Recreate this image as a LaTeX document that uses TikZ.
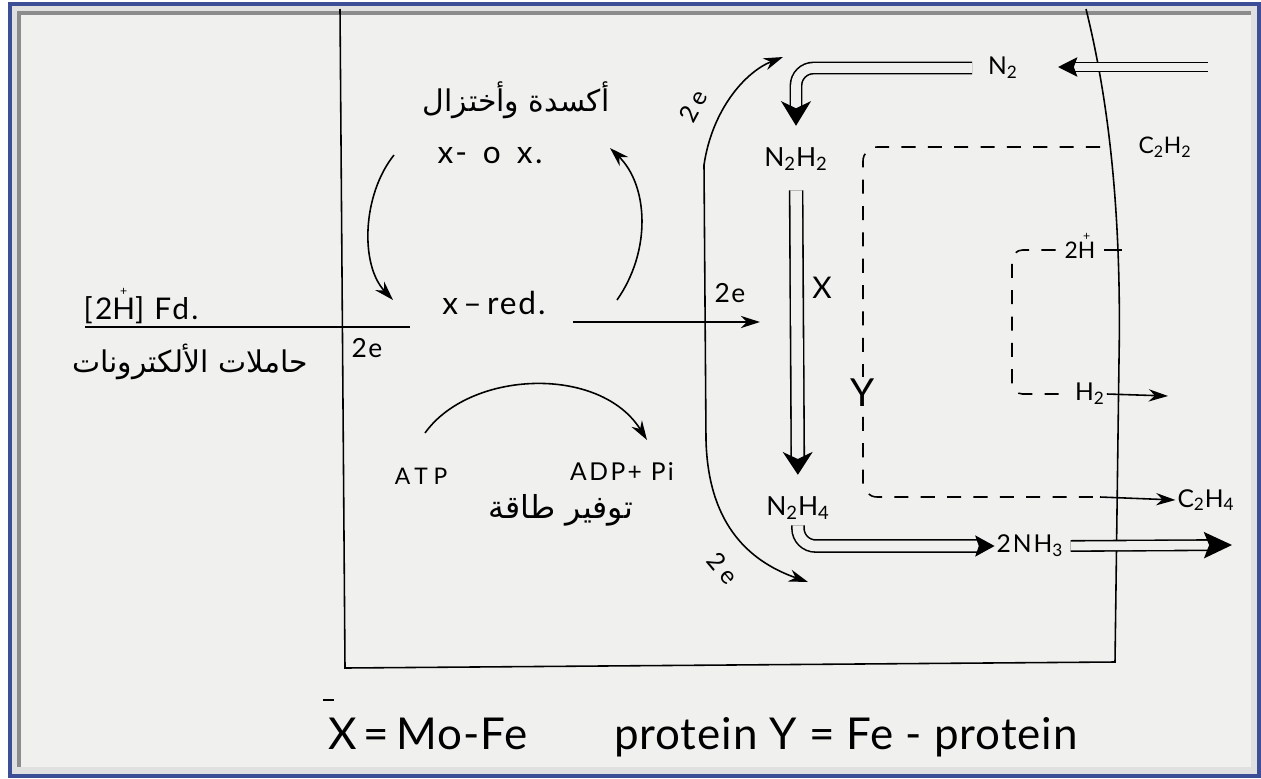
\documentclass[tikz,border=0pt]{standalone}
\usepackage{fontspec}
\setmainfont{Lato}
\newfontfamily\arabicfont[Script=Arabic]{DejaVu Sans}
\TeXXeTstate=1
\usepackage{xcolor}
\usetikzlibrary{arrows.meta,positioning}

\definecolor{paper}{RGB}{240,240,238}
\definecolor{bevel}{RGB}{224,224,224}
\definecolor{bevelshade}{RGB}{140,140,140}
\definecolor{rimblue}{RGB}{60,78,150}

\newcommand{\hand}[2]{\fontsize{#1}{#1}\selectfont\addfontfeature{LetterSpace=#2}}
\newcommand{\arab}[1]{\arabicfont\fontsize{#1}{#1}\selectfont}
\newcommand{\Hcharge}{\ooalign{H\cr\hidewidth\raisebox{0.8em}{\scriptsize+}\hidewidth\cr}}

\tikzset{
	>={Stealth[length=11pt,width=7pt]},
	lbl/.style={inner sep=1pt},
	arr/.style={line width=0.9pt,->},
	dbl/.style={line width=0.9pt,double=paper,double distance=#1},
	dashy/.style={line width=0.9pt,dash pattern=on 8pt off 7pt},
}

\begin{document}
\begin{tikzpicture}[x=0.02cm,y=-0.02cm]

		\useasboundingbox (0,0) rectangle (1261,778);

		% frame of the photo
		\fill[white] (0,0) rectangle (1261,778);
		\fill[bevel] (11,5) rectangle (1258,775);
		\fill[paper] (20,14) rectangle (1251,767);
		\draw[bevelshade,line width=2pt]
		(19,767) -- (19,13) -- (1251,13);
		\draw[rimblue,line width=2pt]
		(10,4) rectangle (1259,776);

		% cell box
		\draw[line width=0.9pt]
		(340,9) -- (345,668) -- (1115,662) -- (1119,360)
		.. controls (1122,200) and (1106,90) .. (1086,9);

		% redox cycle
		\node[lbl,font=\arab{17}] (redox)
		at (516,100) {\beginR أكسدة وأختزال\endR};

		\node[lbl,font=\hand{18}{8}] (xox)
		at (490,155) {x-\, o\, x.};

		\node[lbl,font=\hand{18}{6}] (xred)
		at (494,303) {x\,–\,red.};

		\coordinate (cyc1a) at (394,155);
		\coordinate (cyc1b) at (393,300);
		\draw[arr]
		(cyc1a) .. controls (362,195) and (360,265) .. (cyc1b);

		\coordinate (cyc2a) at (617,300);
		\coordinate (cyc2b) at (610,148);
		\draw[arr]
		(cyc2a) .. controls (652,250) and (648,185) .. (cyc2b);

		% electron carriers
		\node[lbl,font=\hand{17}{8}] (fd)
		at (141,310) {[2\Hcharge] Fd.};

		\node[lbl,font=\arab{17}] (carriers)
		at (190,362) {\beginR حاملات الألكترونات\endR};

		\coordinate (fdl) at (85,327);
		\coordinate (fdr) at (410,327);
		\draw[line width=0.9pt]
		(fdl) -- (fdr);

		\node[lbl,font=\hand{15}{5}] (ea)
		at (367,348) {2e};

		\coordinate (e0) at (573,322);
		\coordinate (e1) at (760,322);
		\draw[arr]
		(e0) -- (e1);

		\node[lbl,font=\hand{15}{5}] (eb)
		at (730,293) {2e};

		% electron path along the substrates
		\coordinate (etop) at (783,57);
		\coordinate (ebot) at (808,582);
		\draw[arr,<->]
		(etop) .. controls (745,72) and (712,110) .. (704,165)
		-- (706,440) .. controls (708,520) and (745,560) .. (ebot);

		\node[lbl,font=\hand{14}{22},rotate=62] (ec)
		at (693,106) {2e};

		\node[lbl,font=\hand{14}{22},rotate=-50] (ed)
		at (723,568) {2e};

		% energy
		\node[lbl,font=\hand{13}{25}] (atp)
		at (421,476) {ATP};

		\node[lbl,font=\hand{14}{10}] (adp)
		at (622,472) {ADP+ Pi};

		\node[lbl,font=\arab{18}] (energy)
		at (561,510) {\beginR توفير طاقة\endR};

		\coordinate (atpa) at (425,433);
		\coordinate (atpb) at (647,440);
		\draw[arr]
		(atpa) .. controls (470,370) and (600,365) .. (atpb);

		% nitrogen chain
		\node[lbl,font=\hand{14}{12}] (n2)
		at (1003,68) {N\textsubscript{2}};

		\node[lbl,font=\hand{15}{18}] (n2h2)
		at (796,159) {N\textsubscript{2}H\textsubscript{2}};

		\node[lbl,font=\hand{15}{18}] (n2h4)
		at (798,508) {N\textsubscript{2}H\textsubscript{4}};

		\node[lbl,font=\hand{14}{8}] (nh3)
		at (1030,546) {2NH\textsubscript{3}};

		\coordinate (n2src) at (1208,67);
		\coordinate (n2tip) at (1058,67);
		\draw[dbl=4pt,-{Stealth[length=11pt,width=11pt,inset=2pt]}]
		(n2src) -- (n2tip);

		\draw[dbl=5.5pt,rounded corners=10pt,shorten <=8pt,shorten >=11pt,
		-{Stealth[length=14pt,width=17pt,inset=4pt]}]
		(n2.west) -| (n2h2.north);

		\draw[dbl=6.5pt,shorten <=10pt,shorten >=11pt,
		-{Stealth[length=13pt,width=17pt,inset=4pt]}]
		(n2h2.south) -- (n2h4.north);

		\draw[dbl=6pt,rounded corners=10pt,shorten <=2pt,
		-{Stealth[length=11pt,width=12pt,inset=2pt]}]
		(n2h4.south) |- (nh3.west);

		\coordinate (nh3out) at (1232,545);
		\draw[dbl=5pt,shorten <=3pt,
		-{Stealth[length=16pt,width=15pt,inset=3pt]}]
		(nh3.east) -- (nh3out);

		\node[lbl,font=\hand{17}{5}] (xlab)
		at (822,288) {X};

		% Y side reactions
		\node[lbl,font=\hand{13}{15}] (c2h2)
		at (1165,147) {C\textsubscript{2}H\textsubscript{2}};

		\node[lbl,font=\hand{14}{12}] (c2h4)
		at (1206,500) {C\textsubscript{2}H\textsubscript{4}};

		\coordinate (ystart) at (1100,147);
		\coordinate (ya) at (863,147);
		\coordinate (yb) at (863,497);
		\coordinate (yend) at (1100,497);
		\draw[dashy,rounded corners=8pt]
		(ystart) -- (ya) -- (yb) -- (yend);
		\draw[arr]
		(yend) -- (c2h4.west);

		\node[lbl,font=\hand{22}{0},fill=paper] (ylab)
		at (863,393) {Y};

		\node[lbl,font=\hand{13}{8}] (hplus)
		at (1080,250) {2\Hcharge};

		\node[lbl,font=\hand{14}{8}] (h2)
		at (1090,394) {H\textsubscript{2}};

		\coordinate (hcorner) at (1012,394);
		\draw[dashy,rounded corners=6pt]
		([xshift=-4pt]hplus.west) -| (hcorner) -- ([xshift=-3pt]h2.west);

		\coordinate (hplusr) at (1122,250);
		\draw[line width=0.9pt]
		([xshift=4pt]hplus.east) -- (hplusr);

		\coordinate (h2out) at (1168,396);
		\draw[arr]
		(h2.east) -- (h2out);

		% legend
		\node[lbl,font=\hand{25}{2},anchor=base west] (legx)
		at (326,749) {X\,=\,Mo-Fe};

		\node[lbl,font=\hand{25}{2},anchor=base west] (legy)
		at (612,749) {protein Y = Fe - protein};

		\coordinate (bara) at (323,700);
		\coordinate (barb) at (334,700);
		\draw[line width=0.9pt]
		(bara) -- (barb);

	\end{tikzpicture}
\end{document}
